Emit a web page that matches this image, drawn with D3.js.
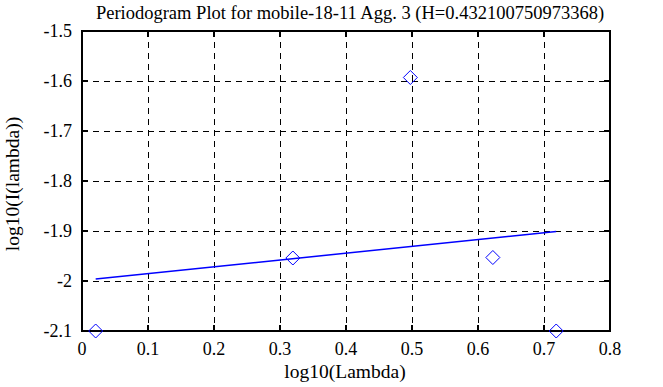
<!DOCTYPE html>
<html>
<head>
<meta charset="utf-8">
<script src="https://cdn.jsdelivr.net/npm/d3@7"></script>
<style>
  body { margin: 0; background: #fff; }
  text { font-family: "Liberation Serif", "Times New Roman", serif; fill: #000; }
</style>
</head>
<body>
<div id="chart"></div>
<script>
var titleText = "Periodogram Plot for mobile-18-11 Agg. 3 (H=0.432100750973368)";
var xLabel = "log10(Lambda)";
var yLabel = "log10(I(lambda))";

// periodogram points
var logLambda = [0.0207, 0.3195, 0.4975, 0.6225, 0.7185];
var logI = [-2.1, -1.954, -1.593, -1.953, -2.1];

// least squares fit line
var fitX = [0.0207, 0.7185];
var fitY = [-1.996, -1.901];

var xTicks = [0, 0.1, 0.2, 0.3, 0.4, 0.5, 0.6, 0.7, 0.8];
var yTicks = [-1.5, -1.6, -1.7, -1.8, -1.9, -2, -2.1];

var width = 663, height = 387;
var margin = { top: 31, right: 53, bottom: 56, left: 82 };

var svg = d3.select("#chart")
    .append("svg")
    .attr("width", width)
    .attr("height", height);

var x = d3.scaleLinear().domain([0, 0.8]).range([margin.left, width - margin.right]);
var y = d3.scaleLinear().domain([-2.1, -1.5]).range([height - margin.bottom, margin.top]);

var x0 = x(0), x1 = x(0.8), y0 = y(-2.1), y1 = y(-1.5);

// dashed grid
svg.append("g").selectAll("line")
    .data(xTicks.slice(1, -1))
    .enter().append("line")
    .attr("x1", d => x(d)).attr("x2", d => x(d))
    .attr("y1", y1).attr("y2", y0)
    .style("stroke", "#000")
    .style("stroke-width", "1px")
    .style("stroke-dasharray", "6,5")
    .style("shape-rendering", "crispEdges");

svg.append("g").selectAll("line")
    .data(yTicks.slice(1, -1))
    .enter().append("line")
    .attr("x1", x0).attr("x2", x1)
    .attr("y1", d => y(d)).attr("y2", d => y(d))
    .style("stroke", "#000")
    .style("stroke-width", "1px")
    .style("stroke-dasharray", "6,5")
    .style("shape-rendering", "crispEdges");

// inward ticks on all four sides
var tickLen = 6;
xTicks.forEach(function (t) {
    svg.append("line")
        .attr("x1", x(t)).attr("x2", x(t))
        .attr("y1", y0).attr("y2", y0 - tickLen)
        .style("stroke", "#000").style("stroke-width", "2px");
    svg.append("line")
        .attr("x1", x(t)).attr("x2", x(t))
        .attr("y1", y1).attr("y2", y1 + tickLen)
        .style("stroke", "#000").style("stroke-width", "2px");
    svg.append("text")
        .attr("x", x(t))
        .attr("y", y0 + 24)
        .attr("text-anchor", "middle")
        .style("font-size", "18px")
        .text(String(t));
});

yTicks.forEach(function (t) {
    svg.append("line")
        .attr("x1", x0).attr("x2", x0 + tickLen)
        .attr("y1", y(t)).attr("y2", y(t))
        .style("stroke", "#000").style("stroke-width", "2px");
    svg.append("line")
        .attr("x1", x1).attr("x2", x1 - tickLen)
        .attr("y1", y(t)).attr("y2", y(t))
        .style("stroke", "#000").style("stroke-width", "2px");
    svg.append("text")
        .attr("x", x0 - 10)
        .attr("y", y(t) + 6)
        .attr("text-anchor", "end")
        .style("font-size", "18px")
        .text(String(t));
});

// frame
svg.append("rect")
    .attr("x", x0).attr("y", y1)
    .attr("width", x1 - x0).attr("height", y0 - y1)
    .style("fill", "none")
    .style("stroke", "#000")
    .style("stroke-width", "2px");

// fit line
var line = d3.line().x(d => x(d[0])).y(d => y(d[1]));
svg.append("path")
    .datum(d3.zip(fitX, fitY))
    .attr("d", line)
    .style("fill", "none")
    .style("stroke", "#0000ff")
    .style("stroke-width", "1.5px");

// diamond markers
var r = 7;
svg.append("g").selectAll("path")
    .data(d3.zip(logLambda, logI))
    .enter().append("path")
    .attr("d", function (d) {
        var cx = x(d[0]), cy = y(d[1]);
        return "M" + cx + "," + (cy - r) + "L" + (cx + r) + "," + cy +
            "L" + cx + "," + (cy + r) + "L" + (cx - r) + "," + cy + "Z";
    })
    .style("fill", "none")
    .style("stroke", "#0000ff")
    .style("stroke-width", "1px");

// title and labels
svg.append("text")
    .attr("x", (x0 + x1) / 2 + 4)
    .attr("y", 19)
    .attr("text-anchor", "middle")
    .style("font-size", "18.5px")
    .text(titleText);

svg.append("text")
    .attr("x", 345)
    .attr("y", 378)
    .attr("text-anchor", "middle")
    .style("font-size", "19.5px")
    .text(xLabel);

svg.append("text")
    .attr("transform", "translate(19,184) rotate(-90)")
    .attr("text-anchor", "middle")
    .style("font-size", "19.5px")
    .text(yLabel);
</script>
</body>
</html>
